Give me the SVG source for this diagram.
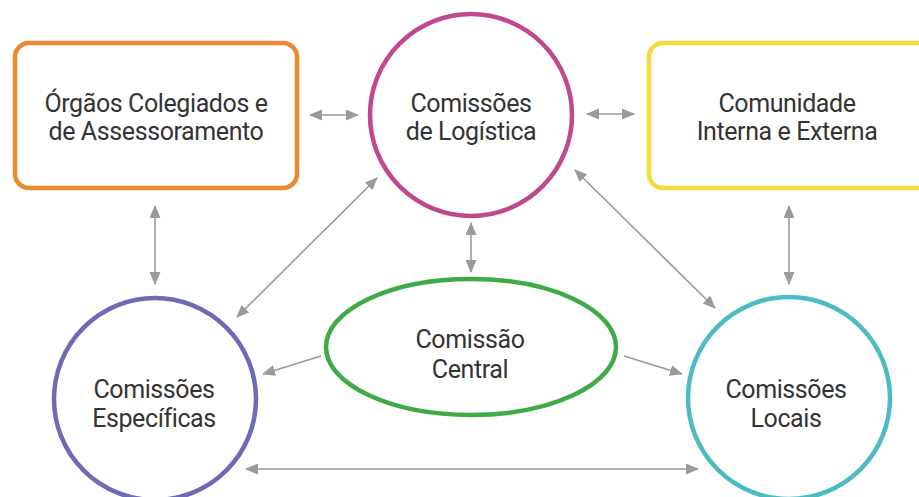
<svg xmlns="http://www.w3.org/2000/svg" width="919" height="497" viewBox="0 0 919 497">
<defs>
<style>
.lbl{font-family:Roboto,"Liberation Sans",sans-serif;font-size:25px;letter-spacing:-0.4px;fill:#333333;text-anchor:middle}
.con{stroke:#9a9a9a;stroke-width:1.6;fill:none}
.node{fill:#ffffff;stroke-width:4.5}
</style>
<marker id="ah" viewBox="0 0 13 11" refX="12" refY="5.5" markerWidth="13" markerHeight="11" markerUnits="userSpaceOnUse" orient="auto-start-reverse">
<path d="M0,0 L13,5.5 L0,11 Z" fill="#9a9a9a"/>
</marker>
</defs>
<rect width="919" height="497" fill="#ffffff"/>
<g id="connectors">
<line class="con" x1="310" y1="115" x2="358" y2="115" marker-start="url(#ah)" marker-end="url(#ah)"/>
<line class="con" x1="587" y1="114" x2="634" y2="114" marker-start="url(#ah)" marker-end="url(#ah)"/>
<line class="con" x1="155" y1="206" x2="155" y2="284" marker-start="url(#ah)" marker-end="url(#ah)"/>
<line class="con" x1="789" y1="206" x2="789" y2="284" marker-start="url(#ah)" marker-end="url(#ah)"/>
<line class="con" x1="471" y1="223" x2="471" y2="272" marker-start="url(#ah)" marker-end="url(#ah)"/>
<line class="con" x1="237" y1="317" x2="377" y2="178" marker-start="url(#ah)" marker-end="url(#ah)"/>
<line class="con" x1="575" y1="170" x2="715" y2="308" marker-start="url(#ah)" marker-end="url(#ah)"/>
<line class="con" x1="321" y1="356" x2="263" y2="374" marker-end="url(#ah)"/>
<line class="con" x1="624" y1="356" x2="682" y2="374" marker-end="url(#ah)"/>
<line class="con" x1="246" y1="469" x2="698" y2="469" marker-start="url(#ah)" marker-end="url(#ah)"/>
</g>
<g id="orgaos">
<rect class="node" x="15" y="43" width="282" height="145" rx="14" stroke="#E98A2F"/>
<text class="lbl" x="156" y="112">Órgãos Colegiados e</text>
<text class="lbl" x="156" y="140">de Assessoramento</text>
</g>
<g id="logistica">
<circle class="node" cx="471" cy="115" r="101" stroke="#C0488C"/>
<text class="lbl" x="471" y="112">Comissões</text>
<text class="lbl" x="471" y="140">de Logística</text>
</g>
<g id="comunidade">
<rect class="node" x="649" y="43" width="290" height="145" rx="14" stroke="#F0DC3C"/>
<text class="lbl" x="787" y="112">Comunidade</text>
<text class="lbl" x="787" y="140">Interna e Externa</text>
</g>
<g id="especificas">
<circle class="node" cx="155" cy="399" r="101" stroke="#6E6BB6"/>
<text class="lbl" x="154" y="398">Comissões</text>
<text class="lbl" x="154" y="427">Específicas</text>
</g>
<g id="central">
<ellipse class="node" cx="471" cy="347" rx="145" ry="68" stroke="#3FAA48"/>
<text class="lbl" x="470" y="348">Comissão</text>
<text class="lbl" x="470" y="378">Central</text>
</g>
<g id="locais">
<circle class="node" cx="789" cy="398" r="101" stroke="#4CBCC2"/>
<text class="lbl" x="786" y="398">Comissões</text>
<text class="lbl" x="786" y="427">Locais</text>
</g>
</svg>
